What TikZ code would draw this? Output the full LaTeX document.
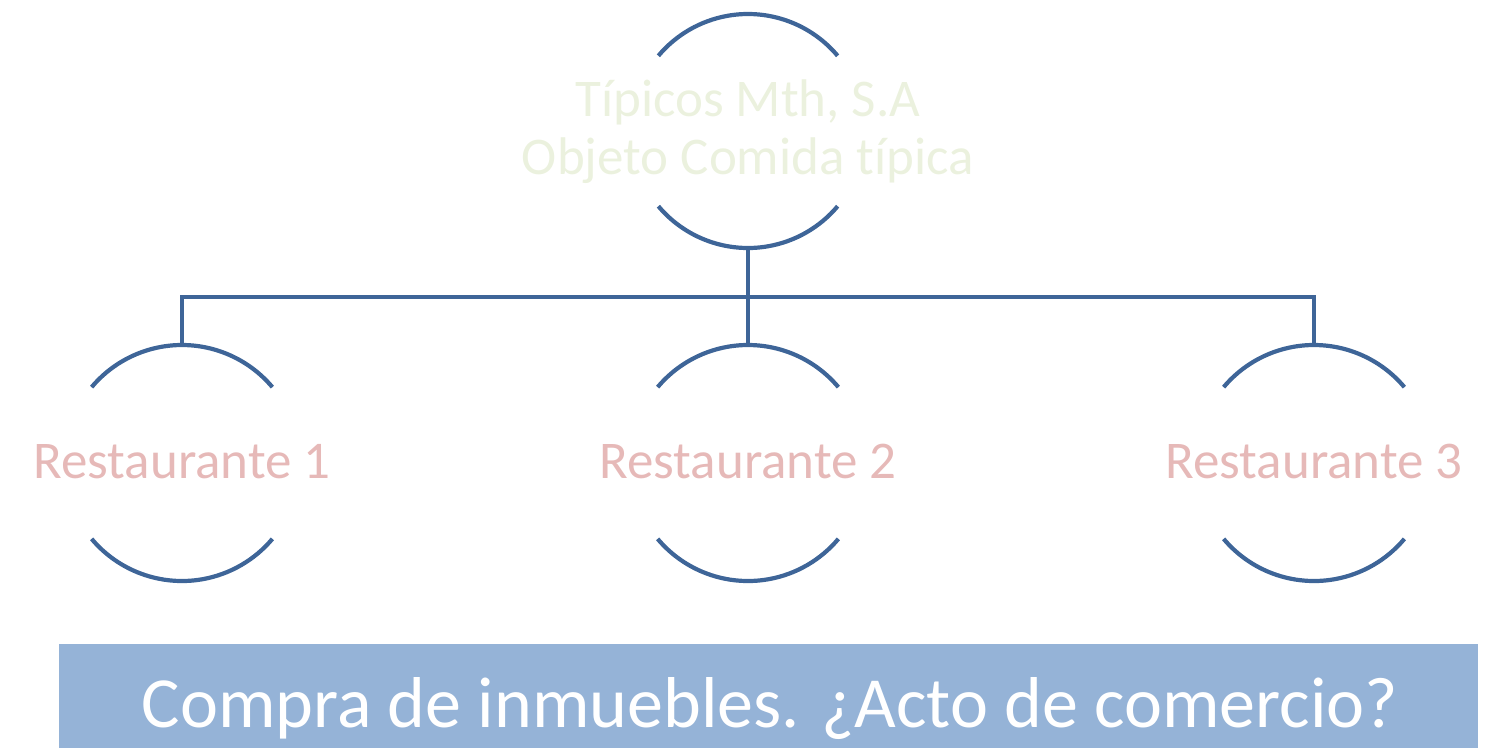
\documentclass[tikz,border=0pt]{standalone}
\usepackage{fontspec}
\setmainfont{Carlito}[Ligatures={NoCommon}]
\definecolor{linecol}{HTML}{3E6598}
\definecolor{toptext}{HTML}{EBF1DE}
\definecolor{restext}{HTML}{E6B9B8}
\definecolor{barcol}{HTML}{95B3D7}
\begin{document}
\begin{tikzpicture}[x=1pt,y=1pt,
  ring/.style={circle,draw=none,minimum size=#1,inner sep=0pt,outer sep=0pt},
  arcline/.style={draw=linecol,line width=4.2pt},
  conn/.style={draw=linecol,line width=4.2pt},
  toplabel/.style={text=toptext,align=center,font=\fontsize{53}{58}\selectfont},
  reslabel/.style={text=restext,anchor=base,font=\fontsize{53}{58}\selectfont},
  barbox/.style={fill=barcol,draw=none,inner sep=0pt,minimum width=1419pt,minimum height=104pt},
  bartext/.style={text=white,anchor=base,font=\fontsize{72}{78}\selectfont}
]
\useasboundingbox (0,0) rectangle (1503,-748);
% top node
\node[ring=234pt] (top) at (748,-131) {};
\node[toplabel] (toptxt) at (748,-132) {Típicos Mth, S.A\\Objeto Comida típica};
\draw[arcline] (top.40) arc[start angle=40,end angle=140,radius=117pt];
\draw[arcline] (top.220) arc[start angle=220,end angle=320,radius=117pt];
% bottom nodes
\foreach \n/\x/\t in {r1/182/Restaurante 1, r2/748/Restaurante 2, r3/1314/Restaurante 3}{
  \node[ring=236pt] (\n) at (\x,-463) {};
  \node[reslabel] (\n txt) at (\x,-478) {\t};
  \draw[arcline] (\n.40) arc[start angle=40,end angle=140,radius=118pt];
  \draw[arcline] (\n.220) arc[start angle=220,end angle=320,radius=118pt];
}
% connectors
\coordinate (bus) at (748,-297);
\draw[conn] (top.south) -- (bus);
\draw[conn] (bus) -| (r1.north);
\draw[conn] (bus) -| (r3.north);
\draw[conn] (bus) -- (r2.north);
% bottom bar
\node[barbox] (bar) at (768.5,-696) {};
\node[bartext] (bartxt) at (770,-727) {Compra de inmuebles. ¿Acto de comercio?};
\end{tikzpicture}
\end{document}
